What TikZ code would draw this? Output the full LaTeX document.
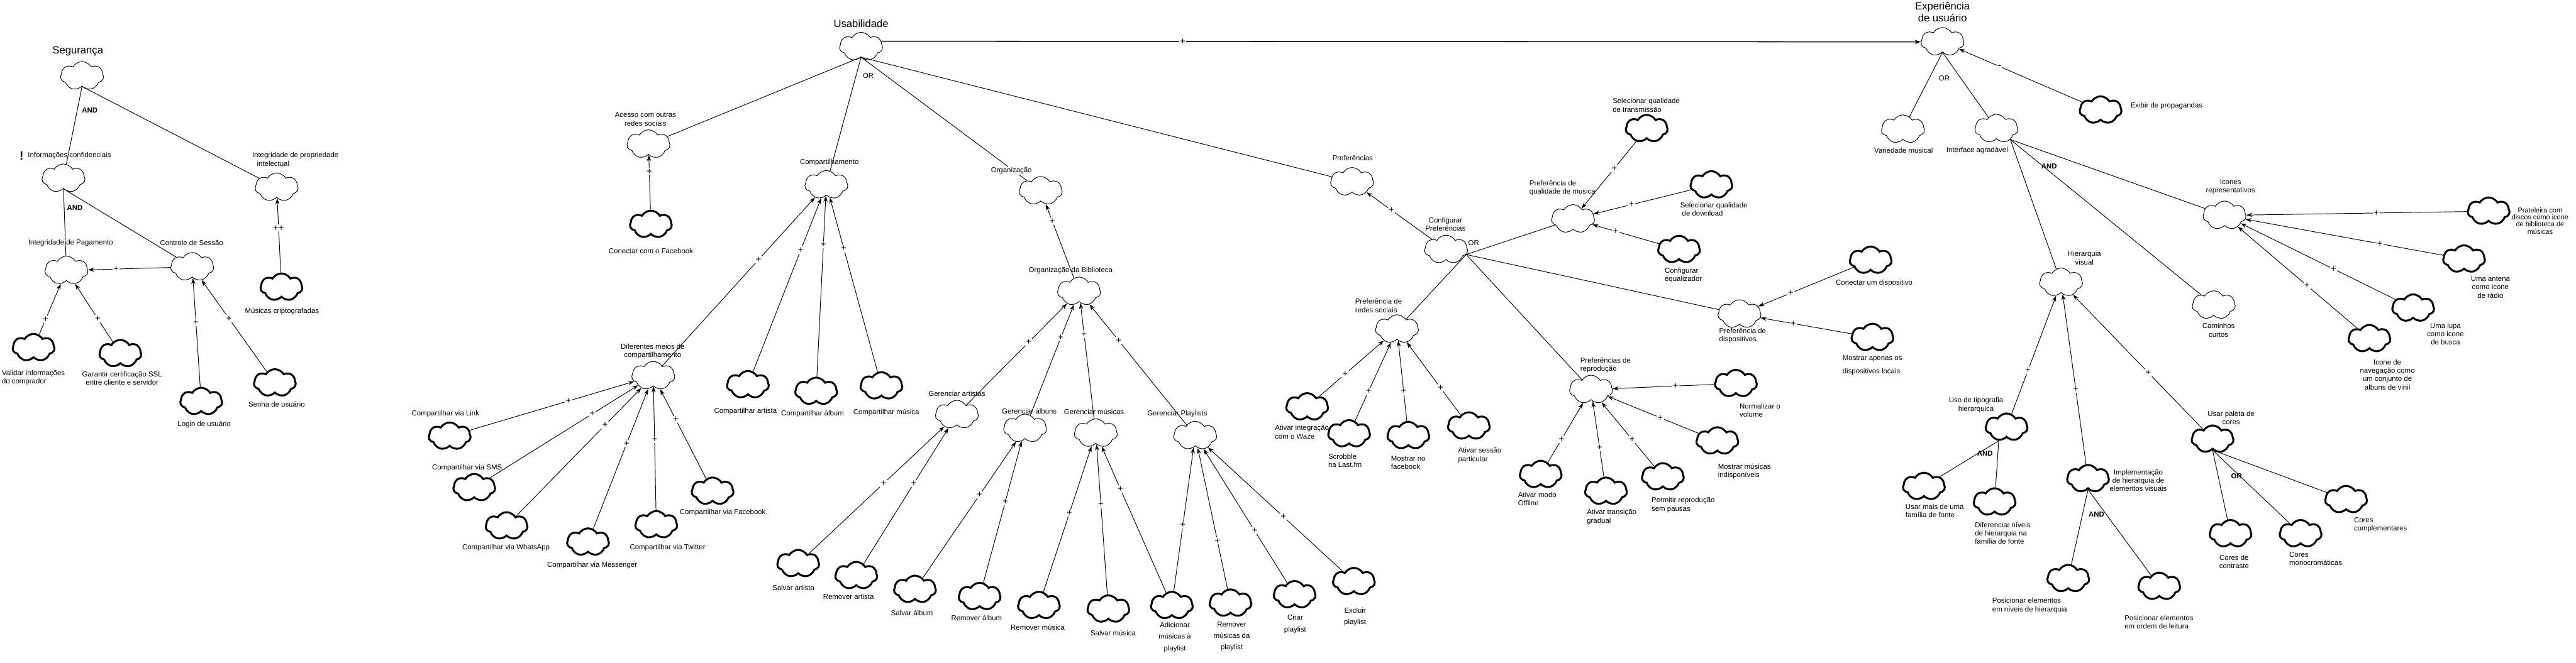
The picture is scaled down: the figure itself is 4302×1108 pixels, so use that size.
\documentclass[tikz,border=0pt]{standalone}
\usepackage{fontspec}
\setmainfont{Liberation Sans}
\usetikzlibrary{shapes.symbols,arrows.meta}
\newcommand\lblfont{\fontsize{12}{14}\selectfont}
\newcommand\ttlfont{\fontsize{17.5}{20}\selectfont}
\newcommand\plusfnt{\fontsize{15.5}{15.5}\selectfont}
\begin{document}
\begin{tikzpicture}[x=1pt,y=-1pt,
  sg/.style={cloud, cloud puffs=7, cloud puff arc=120, cloud ignores aspect, draw=black, fill=white, line width=1pt, minimum width=72pt, minimum height=48pt, inner sep=0pt},
  sgt/.style={sg, line width=3.2pt, minimum width=70pt, minimum height=46pt},
  lb/.style={font=\lblfont, inner sep=0pt, align=center, text=black},
  lbl/.style={lb, align=left, anchor=west},
  ttl/.style={font=\ttlfont, inner sep=0pt, align=center},
  gate/.style={font=\lblfont, inner sep=0pt},
  gateb/.style={font=\lblfont\bfseries, inner sep=0pt},
  ctb/.style={line width=1pt, -{Stealth[length=10pt,width=7pt]}},
  dec/.style={line width=1pt},
  plus/.style={fill=white, inner sep=1.5pt, font=\plusfnt},
]
\useasboundingbox[fill=white] (0,0) rectangle (4302,1108);

% ================= SEGURANCA =================
\node[ttl] (t-seg) at (130,86) {Segurança};
\node[font=\bfseries\fontsize{20}{20}\selectfont, inner sep=0pt] (excl) at (36,260) {!};
\node[lb] (l-info) at (116,260) {Informações confidenciais};
\node[lbl] (l-intprop) at (421,266) {Integridade de propriedade\\\hspace*{8pt}intelectual};
\node[lb] (l-intpag) at (118,406) {Integridade de Pagamento};
\node[lb] (l-ctrl) at (320,406) {Controle de Sessão};
\node[lbl] (l-validar) at (3,631) {Validar informações\\do comprador};
\node[lb] (l-garantir) at (204,632) {Garantir certificação SSL\\entre cliente e servidor};
\node[lb] (l-login) at (341,709) {Login de usuário};
\node[lb] (l-senha) at (462,676) {Senha de usuário};
\node[lb] (l-musicas) at (471,520) {Músicas criptografadas};
\node[gateb] (and-seg) at (150,184) {AND};
\node[gateb] (and-info) at (125,347) {AND};

\node[sg] (seg) at (137,127) {};
\node[sg] (info) at (106,298) {};
\node[sg] (intprop) at (462,313) {};
\node[sg] (intpag) at (111,452) {};
\node[sg] (ctrl) at (321,446) {};
\node[sgt] (validar) at (56,581) {};
\node[sgt] (garantir) at (201,591) {};
\node[sgt] (login) at (336,671) {};
\node[sgt] (senha) at (459,640) {};
\node[sgt] (musicas) at (470,480) {};

\draw[dec] (seg.south) -- (info);
\draw[dec] (seg.south) -- (intprop);
\draw[dec] (info.south) -- (intpag);
\draw[dec] (info.south) -- (ctrl);
\draw[ctb] (ctrl) -- node[plus,pos=.66]{+} (intpag);
\draw[ctb] (validar) -- node[plus,pos=.3]{+} (intpag);
\draw[ctb] (garantir) -- node[plus,pos=.4]{+} (intpag);
\draw[ctb] (login) -- node[plus,pos=.59]{+} (ctrl);
\draw[ctb] (senha) -- node[plus,pos=.58]{+} (ctrl);
\draw[ctb] (musicas) -- node[plus,pos=.6]{++} (intprop);

% ================= USABILIDADE =================
\node[ttl] (t-usab) at (1438,39) {Usabilidade};
\node[gate] (or-usab) at (1450,127) {OR};
\node[lb] (l-acesso) at (1078,199) {Acesso com outras\\redes sociais};
\node[lb] (l-conectfb) at (1087,419) {Conectar com o Facebook};
\node[lb] (l-comp) at (1385,272) {Compartilhamento};
\node[lb] (l-dif) at (1090,587) {Diferentes meios de\\compartilhamento};
\node[lb] (l-link) at (744,692) {Compartilhar via Link};
\node[lb] (l-sms) at (780,782) {Compartilhar via SMS};
\node[lb] (l-whats) at (845,915) {Compartilhar via WhatsApp};
\node[lb] (l-messenger) at (989,945) {Compartilhar via Messenger};
\node[lb] (l-twitter) at (1115,915) {Compartilhar via Twitter};
\node[lb] (l-facebook) at (1207,857) {Compartilhar via Facebook};
\node[lb] (l-cartista) at (1245,687) {Compartilhar artista};
\node[lb] (l-calbum) at (1357,692) {Compartilhar álbum};
\node[lb] (l-cmusica) at (1480,690) {Compartilhar música};
\node[lb] (l-orgbib) at (1788,452) {Organização da Biblioteca};
\node[lb] (l-ga) at (1598,658) {Gerenciar artistas};
\node[lb] (l-galb) at (1719,687) {Gerenciar álbuns};
\node[lb] (l-gm) at (1827,688) {Gerenciar músicas};
\node[lb] (l-gp) at (1966,692) {Gerenciar Playlists};
\node[lb] (l-sa) at (1325,982) {Salvar artista};
\node[lb] (l-ra) at (1417,997) {Remover artista};
\node[lb] (l-salb) at (1523,1024) {Salvar álbum};
\node[lb] (l-ralb) at (1631,1033) {Remover álbum};
\node[lb] (l-rm) at (1733,1049) {Remover música};
\node[lb] (l-sm) at (1859,1058) {Salvar música};
\node[lb, font=\fontsize{12}{19}\selectfont] (l-add) at (1962,1065) {Adicionar\\músicas à\\playlist};
\node[lb, font=\fontsize{12}{19}\selectfont] (l-rmp) at (2057,1064) {Remover\\músicas da\\playlist};
\node[lb, font=\fontsize{12}{19}\selectfont] (l-criar) at (2163,1043) {Criar\\playlist};
\node[lb, font=\fontsize{12}{19}\selectfont] (l-excluir) at (2263,1031) {Excluir\\playlist};

\node[sg] (usab) at (1438,78) {};
\node[sg] (acesso) at (1083,241) {};
\node[sgt] (conectfb) at (1087,375) {};
\node[sg] (comp) at (1380,309) {};
\node[sg] (dif) at (1091,628) {};
\node[sgt] (link) at (751,729) {};
\node[sgt] (sms) at (792,815) {};
\node[sgt] (whats) at (846,879) {};
\node[sgt] (messenger) at (982,906) {};
\node[sgt] (twitter) at (1096,877) {};
\node[sgt] (facebook) at (1190,821) {};
\node[sgt] (cartista) at (1249,643) {};
\node[sgt] (calbum) at (1363,654) {};
\node[sgt] (cmusica) at (1472,645) {};
\node[sg] (org) at (1738,319) {};
\node[sg] (orgbib) at (1802,487) {};
\node[sg] (ga) at (1598,693) {};
\node[sg] (galb) at (1712,716) {};
\node[sg] (gm) at (1830,724) {};
\node[sg] (gp) at (1996,728) {};
\node[sgt] (sa) at (1333,942) {};
\node[sgt] (ra) at (1430,962) {};
\node[sgt] (salb) at (1528,985) {};
\node[sgt] (ralb) at (1636,997) {};
\node[sgt] (rm) at (1735,1012) {};
\node[sgt] (sm) at (1851,1018) {};
\node[sgt] (add) at (1957,1012) {};
\node[sgt] (rmp) at (2055,1008) {};
\node[sgt] (criar) at (2162,994) {};
\node[sgt] (excluir) at (2261,972) {};

\draw[dec] (usab.south) -- (acesso);
\draw[dec] (usab.south) -- (comp);
\draw[dec] (usab.south) -- (org);
\node[lb, fill=white, inner sep=1pt] (l-org) at (1689,285) {Organização};
\draw[ctb] (conectfb) -- node[plus,pos=.7]{+} (acesso);
\draw[ctb] (dif) -- node[plus,pos=.63]{+} (comp);
\draw[ctb] (cartista) -- node[plus,pos=.7]{+} (comp);
\draw[ctb] (calbum) -- node[plus,pos=.73]{+} (comp);
\draw[ctb] (cmusica) -- node[plus,pos=.71]{+} (comp);
\draw[ctb] (link) -- node[plus,pos=.6]{+} (dif);
\draw[ctb] (sms) -- node[plus,pos=.69]{+} (dif);
\draw[ctb] (whats) -- node[plus,pos=.71]{+} (dif);
\draw[ctb] (messenger) -- node[plus,pos=.61]{+} (dif);
\draw[ctb] (twitter) -- node[plus,pos=.57]{+} (dif);
\draw[ctb] (facebook) -- node[plus,pos=.66]{+} (dif);
\draw[ctb] (orgbib) -- node[plus,pos=.77]{+} (org);
\draw[ctb] (ga) -- node[plus,pos=.62]{+} (orgbib);
\draw[ctb] (galb) -- node[plus,pos=.70]{+} (orgbib);
\draw[ctb] (gm) -- node[plus,pos=.73]{+} (orgbib);
\draw[ctb] (gp) -- node[plus,pos=.70]{+} (orgbib);
\draw[ctb] (sa) -- node[plus,pos=.55]{+} (ga);
\draw[ctb] (ra) -- node[plus,pos=.59]{+} (ga);
\draw[ctb] (salb) -- node[plus,pos=.61]{+} (galb);
\draw[ctb] (ralb) -- node[plus,pos=.57]{+} (galb);
\draw[ctb] (rm) -- node[plus,pos=.54]{+} (gm);
\draw[ctb] (sm) -- node[plus,pos=.60]{+} (gm);
\draw[ctb] (add) -- node[plus,pos=.71]{+} (gm);
\draw[ctb] (add) -- node[plus,pos=.46]{+} (gp);
\draw[ctb] (rmp) -- node[plus,pos=.34]{+} (gp);
\draw[ctb] (criar) -- node[plus,pos=.39]{+} (gp);
\draw[ctb] (excluir) -- node[plus,pos=.44]{+} (gp);

% ================= PREFERENCIAS =================
\node[lb] (l-pref) at (2259,264) {Preferências};
\node[lb] (l-config) at (2414,375) {Configurar\\Preferências};
\node[gate] (or-config) at (2461,406) {OR};
\node[lbl] (l-pq) at (2554,314) {Preferência de\\qualidade de musica};
\node[lbl] (l-sqt) at (2693,176) {Selecionar qualidade\\de transmissão};
\node[lbl] (l-sqd) at (2806,350) {Selecionar qualidade\\\hspace*{3pt}de download};
\node[lbl] (l-ce) at (2780,460) {Configurar\\equalizador};
\node[lbl] (l-prs) at (2263,511) {Preferência de\\redes sociais};
\node[lbl] (l-waze) at (2129,722) {Ativar integração\\com o Waze};
\node[lbl] (l-scrobble) at (2218,770) {Scrobble\\na Last.fm};
\node[lbl] (l-mfb) at (2323,773) {Mostrar no\\facebook};
\node[lbl] (l-sessao) at (2435,761) {Ativar sessão\\particular};
\node[lbl] (l-prp) at (2639,610) {Preferências de\\reprodução};
\node[lbl] (l-normalizar) at (2905,686) {Normalizar o\\volume};
\node[lbl] (l-mmi) at (2869,788) {Mostrar músicas\\indisponíveis};
\node[lbl] (l-permitir) at (2758,844) {Permitir reprodução\\sem pausas};
\node[lbl] (l-transicao) at (2650,864) {Ativar transição\\gradual};
\node[lbl] (l-offline) at (2535,834) {Ativar modo\\Offline};
\node[lbl] (l-pd) at (2871,561) {Preferência de\\dispositivos};
\node[lb] (l-conectdisp) at (3130,473) {Conectar um dispositivo};
\node[lbl, font=\fontsize{12}{22}\selectfont] (l-mostrarap) at (3077,610) {Mostrar apenas os\\dispositivos locais};

\node[sg] (pref-c) at (2258,304) {};
\node[sg] (config) at (2415,417) {};
\node[sg] (pq) at (2627,366) {};
\node[sgt] (sqt) at (2750,215) {};
\node[sgt] (sqd) at (2858,309) {};
\node[sgt] (ce) at (2804,417) {};
\node[sg] (prs) at (2333,550) {};
\node[sgt] (waze) at (2183,680) {};
\node[sgt] (scrobble) at (2253,725) {};
\node[sgt] (mfb) at (2352,728) {};
\node[sgt] (sessao) at (2453,712) {};
\node[sg] (prp) at (2657,651) {};
\node[sgt] (normalizar) at (2899,641) {};
\node[sgt] (mmi) at (2868,737) {};
\node[sgt] (permitir) at (2777,797) {};
\node[sgt] (transicao) at (2682,821) {};
\node[sgt] (offline) at (2573,793) {};
\node[sg] (pd) at (2905,525) {};
\node[sgt] (conectdisp) at (3124,435) {};
\node[sgt] (mostrarap) at (3127,564) {};

\draw[dec] (usab.south) -- (pref-c);
\draw[ctb] (config) -- node[plus,pos=.62]{+} (pref-c);
\draw[dec] (config.-14) -- (pq);
\draw[dec] (config.-14) -- (prs);
\draw[dec] (config.-14) -- (prp);
\draw[dec] (config.-14) -- (pd);
\draw[ctb] (sqt) -- node[plus,pos=.40]{+} (pq);
\draw[ctb] (sqd) -- node[plus,pos=.61]{+} (pq);
\draw[ctb] (ce) -- node[plus,pos=.65]{+} (pq);
\draw[ctb] (waze) -- node[plus,pos=.40]{+} (prs);
\draw[ctb] (scrobble) -- node[plus,pos=.38]{+} (prs);
\draw[ctb] (mfb) -- node[plus,pos=.37]{+} (prs);
\draw[ctb] (sessao) -- node[plus,pos=.37]{+} (prs);
\draw[ctb] (normalizar) -- node[plus,pos=.38]{+} (prp);
\draw[ctb] (mmi) -- node[plus,pos=.42]{+} (prp);
\draw[ctb] (permitir) -- node[plus,pos=.42]{+} (prp);
\draw[ctb] (transicao) -- node[plus,pos=.39]{+} (prp);
\draw[ctb] (offline) -- node[plus,pos=.39]{+} (prp);
\draw[ctb] (conectdisp) -- node[plus,pos=.66]{+} (pd);
\draw[ctb] (mostrarap) -- node[plus,pos=.64]{+} (pd);

% ================= EXPERIENCIA =================
\node[ttl] (t-exp) at (3244,20) {Experiência\\de usuário};
\node[gate] (or-exp) at (3247,131) {OR};
\node[lbl] (l-exibir) at (3558,177) {Exibir de propagandas};
\node[lb] (l-var) at (3179,251) {Variedade musical};
\node[lb] (l-iface) at (3302,251) {Interface agradável};
\node[gateb] (and-iface) at (3422,278) {AND};
\node[lb] (l-icones) at (3725,312) {Icones\\representativos};
\node[lb, font=\fontsize{11.5}{12}\selectfont] (l-prateleira) at (4242,369) {Prateleira com\\discos como icone\\de biblioteca de\\músicas};
\node[lb] (l-antena) at (4159,480) {Uma antena\\como icone\\de rádio};
\node[lb] (l-lupa) at (4084,558) {Uma lupa\\como icone\\de busca};
\node[lb] (l-nav) at (3987,626) {Icone de\\navegação como\\um conjunto de\\albuns de vinil};
\node[lb] (l-hv) at (3481,431) {Hierarquia\\visual};
\node[lb] (l-caminhos) at (3705,552) {Caminhos\\curtos};
\node[lb] (l-ut) at (3300,677) {Uso de tipografia\\hierarquica};
\node[gateb] (and-ut) at (3315,758) {AND};
\node[lbl] (l-usarmais) at (3182,854) {Usar mais de uma\\família de fonte};
\node[lbl] (l-diferenciar) at (3298,891) {Diferenciar níveis\\de hierarquia na\\família de fonte};
\node[lb] (l-impl) at (3571,803) {Implementação\\de hierarquia de\\elementos visuais};
\node[gateb] (and-impl) at (3501,860) {AND};
\node[lbl] (l-posniveis) at (3327,1012) {Posicionar elementos\\em níveis de hierarquia};
\node[lbl] (l-posordem) at (3548,1040) {Posicionar elementos\\em ordem de leitura};
\node[lb] (l-up) at (3726,698) {Usar paleta de\\cores};
\node[gateb] (or-up) at (3735,796) {OR};
\node[lb] (l-contraste) at (3731,939) {Cores de\\contraste};
\node[lbl] (l-mono) at (3823,934) {Cores\\monocromáticas};
\node[lbl] (l-compl) at (3931,877) {Cores\\complementares};

\node[sg] (exp) at (3244,70) {};
\node[sgt] (exibir) at (3508,184) {};
\node[sg] (var) at (3178,216) {};
\node[sg] (iface) at (3334,215) {};
\node[sg] (icones) at (3715,360) {};
\node[sgt] (prateleira) at (4156,353) {};
\node[sgt] (antena) at (4115,433) {};
\node[sgt] (lupa) at (4030,515) {};
\node[sgt] (nav) at (3957,566) {};
\node[sg] (hv) at (3442,472) {};
\node[sg] (caminhos) at (3697,510) {};
\node[sgt] (ut) at (3351,714) {};
\node[sgt] (usarmais) at (3213,813) {};
\node[sgt] (diferenciar) at (3331,839) {};
\node[sgt] (impl) at (3487,800) {};
\node[sgt] (posniveis) at (3454,967) {};
\node[sgt] (posordem) at (3606,980) {};
\node[sgt] (up) at (3695,734) {};
\node[sgt] (contraste) at (3725,892) {};
\node[sgt] (mono) at (3842,892) {};
\node[sgt] (compl) at (3918,835) {};

\draw[line width=1.6pt, -{Stealth[length=10pt,width=7pt]}] (usab.15) -- node[plus,pos=.29]{+} (exp.west);
\draw[ctb] (exibir) -- node[plus,pos=.67]{\textbf{-}} (exp);
\draw[dec] (exp.south) -- (var);
\draw[dec] (exp.south) -- (iface);
\draw[dec] (iface.-38) -- (hv);
\draw[dec] (iface.-38) -- (caminhos);
\draw[dec] (iface.-38) -- (icones);
\draw[ctb] (prateleira) -- node[plus,pos=.41]{+} (icones);
\draw[ctb] (antena) -- node[plus,pos=.32]{+} (icones);
\draw[ctb] (lupa) -- node[plus,pos=.40]{+} (icones);
\draw[ctb] (nav) -- node[plus,pos=.42]{+} (icones);
\draw[ctb] (ut) -- node[plus,pos=.37]{+} (hv);
\draw[ctb] (impl) -- node[plus,pos=.44]{+} (hv);
\draw[ctb] (up) -- node[plus,pos=.42]{+} (hv);
\draw[dec] (ut.-120) -- (usarmais);
\draw[dec] (ut.-120) -- (diferenciar);
\draw[dec] (impl.south) -- (posniveis);
\draw[dec] (impl.south) -- (posordem);
\draw[dec] (up.south) -- (contraste);
\draw[dec] (up.south) -- (mono);
\draw[dec] (up.south) -- (compl);
\end{tikzpicture}
\end{document}
